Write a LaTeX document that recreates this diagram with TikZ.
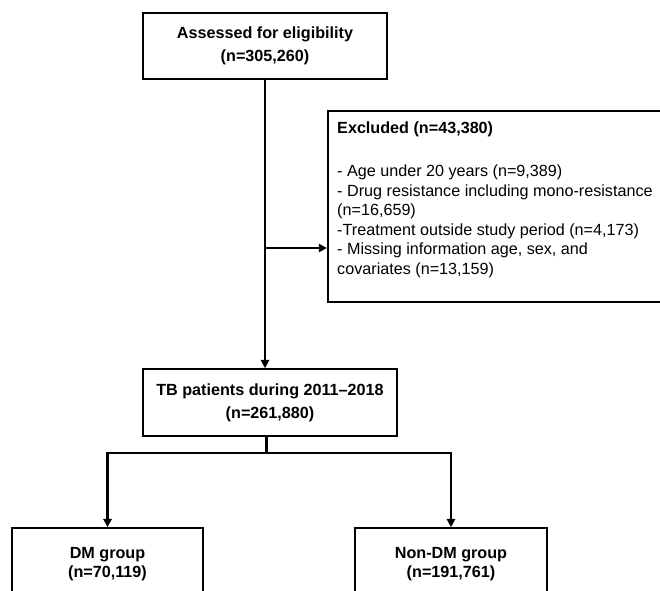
\documentclass[tikz,border=0pt]{standalone}
\usepackage{fontspec}
\setmainfont{Liberation Sans}
\usetikzlibrary{arrows.meta}
\tikzset{
  box/.style={draw, line width=1.4pt, align=center, font=\bfseries\fontsize{13.8}{19.6}\selectfont},
  groupbox/.style={box, minimum height=2.16cm, font=\bfseries\fontsize{13.8}{16.2}\selectfont},
  link/.style={line width=2.2pt},
  linkarrow/.style={link, -{Triangle[length=7pt,width=7pt]}}
}
\begin{document}
\begin{tikzpicture}
    \useasboundingbox (0,0) rectangle (19.8,-17.73);
    \clip (0,0) rectangle (19.8,-17.73);
    % boxes
    \node[box, minimum width=7.32cm, minimum height=1.98cm] (elig) at (7.95,-1.38) {Assessed for eligibility\\(n=305,260)};
    \node[box, minimum width=7.62cm, minimum height=2.01cm] (tb) at (8.10,-12.075) {TB patients during 2011\textendash 2018\\(n=261,880)};
    \node[draw, line width=1.4pt, anchor=north west, minimum width=10.59cm, minimum height=5.73cm] (excl) at (9.81,-3.3) {};
    \node[anchor=north west, inner sep=0pt, align=left, font=\fontsize{13.8}{16.6}\selectfont] (excltext) at (10.11,-3.66)
      {\textbf{Excluded (n=43,380)}\\[20pt]
       - Age under 20 years (n=9,389)\\
       - Drug resistance including mono-resistance\\
       (n=16,659)\\
       -Treatment outside study period (n=4,173)\\
       - Missing information age, sex, and\\
       covariates (n=13,159)};
    \node[groupbox, minimum width=5.73cm] (dm) at (3.225,-16.92) {DM group\\(n=70,119)};
    \node[groupbox, minimum width=5.76cm] (nondm) at (13.53,-16.92) {Non-DM group\\(n=191,761)};
    % connectors
    \coordinate (split) at (7.95,-7.44);
    \coordinate (fork) at (8.0,-13.59);
    \draw[linkarrow] (elig.south) -- (elig.south |- tb.north);
    \draw[linkarrow] (split) -- (split -| excl.west);
    \draw[link] (tb.south -| fork) -- (fork);
    \draw[linkarrow] (fork) -| (dm.north);
    \draw[linkarrow] (fork) -| (nondm.north);
\end{tikzpicture}
\end{document}
